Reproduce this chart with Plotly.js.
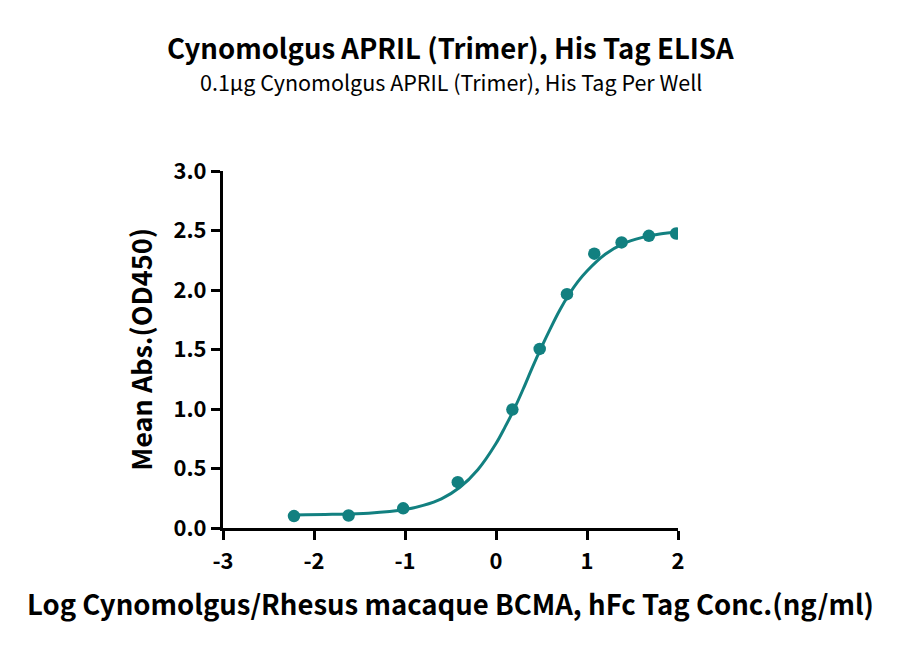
<!DOCTYPE html>
<html>
<head>
<meta charset="utf-8">
<script src="https://cdn.plot.ly/plotly-3.0.1.min.js"></script>
<style>
  html, body { margin: 0; padding: 0; background: #fff; }
  #chart { width: 900px; height: 647px; }
</style>
</head>
<body>
<div id="chart"></div>
<script>

const TEAL = '#128080';
const FONT = '"Noto Sans CJK SC", "Source Sans Pro", "Noto Sans", sans-serif';

// measured points (log conc., mean OD450)
const logConc = [-2.22, -1.62, -1.02, -0.42, 0.18, 0.48, 0.78, 1.08, 1.38, 1.68, 1.98];
const meanAbs = [0.10, 0.105, 0.165, 0.385, 0.995, 1.505, 1.965, 2.305, 2.40, 2.455, 2.475];

// fitted curve as drawn
const fitX = [-2.22, -1.8, -1.4, -1.0, -0.8, -0.6, -0.4, -0.2, 0.0, 0.1, 0.2, 0.3,
  0.4, 0.5, 0.6, 0.7, 0.8, 0.9, 1.0, 1.2, 1.4, 1.6, 1.8, 2.0];
const fitY = [0.11, 0.115, 0.125, 0.155, 0.19, 0.245, 0.34, 0.49, 0.71, 0.85, 1.0, 1.17,
  1.35, 1.52, 1.68, 1.83, 1.96, 2.07, 2.16, 2.30, 2.39, 2.44, 2.47, 2.49];

const xTicks = [-3, -2, -1, 0, 1, 2];
const yTicks = [0, 0.5, 1.0, 1.5, 2.0, 2.5, 3.0];

const TITLE = 'Cynomolgus APRIL (Trimer), His Tag ELISA';
const SUBTITLE = '0.1µg Cynomolgus APRIL (Trimer), His Tag Per Well';
const XLABEL = 'Log Cynomolgus/Rhesus macaque BCMA, hFc Tag Conc.(ng/ml)';
const YLABEL = 'Mean Abs.(OD450)';

const bold = s => '<b>' + s + '</b>';

const traces = [
  {
    type: 'scatter', mode: 'lines', x: fitX, y: fitY,
    line: { color: TEAL, width: 3, shape: 'spline' },
    hoverinfo: 'skip', showlegend: false,
  },
  {
    type: 'scatter', mode: 'markers', x: logConc, y: meanAbs,
    marker: { color: TEAL, size: 12.5 },
    showlegend: false,
  },
];

const axis = {
  showgrid: false, zeroline: false,
  showline: true, linecolor: '#000', linewidth: 3,
  ticks: 'outside', ticklen: 9, tickwidth: 3, tickcolor: '#000',
  tickfont: { family: FONT, size: 22, color: '#000' },
};

const layout = {
  width: 900, height: 647,
  paper_bgcolor: '#fff', plot_bgcolor: '#fff',
  font: { family: FONT, color: '#000' },
  margin: { l: 223, r: 222, t: 171, b: 119 },
  xaxis: Object.assign({}, axis, {
    range: [-3, 2], tickvals: xTicks, ticktext: xTicks.map(v => bold(String(v))),
    ticklabelstandoff: 3,
    title: { text: bold(XLABEL), font: { family: FONT, size: 27.5, color: '#000' }, standoff: 22 },
  }),
  yaxis: Object.assign({}, axis, {
    range: [0, 3], tickvals: yTicks, ticktext: yTicks.map(v => bold(v.toFixed(1))),
    title: { text: bold(YLABEL), font: { family: FONT, size: 27, color: '#000' }, standoff: 14 },
  }),
  annotations: [
    {
      text: bold(TITLE), xref: 'paper', yref: 'paper', x: 0.5, y: 1.347,
      xanchor: 'center', yanchor: 'middle', showarrow: false,
      font: { family: FONT, size: 27.5, color: '#000' },
    },
    {
      text: SUBTITLE, xref: 'paper', yref: 'paper', x: 0.5, y: 1.25,
      xanchor: 'center', yanchor: 'middle', showarrow: false,
      font: { family: FONT, size: 21.5, color: '#000' },
    },
  ],
};

Plotly.newPlot('chart', traces, layout, { displayModeBar: false, staticPlot: true });
</script>
</body>
</html>
